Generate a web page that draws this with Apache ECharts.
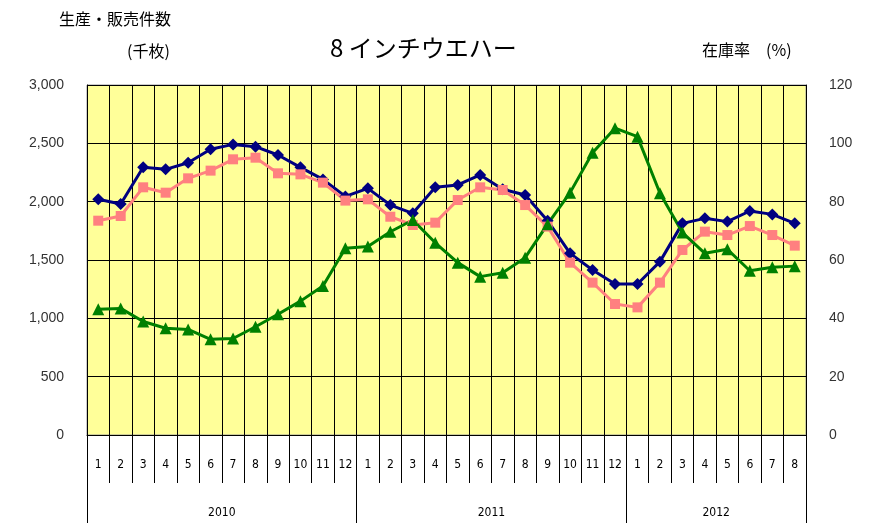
<!DOCTYPE html>
<html><head><meta charset="utf-8">
<script src="https://cdn.jsdelivr.net/npm/echarts@6/dist/echarts.min.js"></script>
<style>html,body{margin:0;padding:0;background:#fff}#c{width:872px;height:523px}</style>
</head><body><div id="c"></div>
<script>
const months = ['1','2','3','4','5','6','7','8','9','10','11','12','1','2','3','4','5','6','7','8','9','10','11','12','1','2','3','4','5','6','7','8'];
const years = ['2010','2011','2012'];
const yearBounds = [0, 12, 24, 32];
const yearCenters = [6, 18, 28];
const production = [2020,1980,2295,2277,2334,2449,2491,2471,2400,2294,2191,2045,2114,1971,1900,2123,2143,2229,2106,2057,1837,1557,1414,1294,1294,1486,1814,1857,1829,1920,1891,1814];
const sales = [1837,1877,2123,2077,2200,2266,2363,2377,2243,2234,2163,2009,2020,1871,1800,1820,2014,2123,2100,1971,1786,1477,1306,1123,1094,1306,1586,1743,1714,1791,1714,1623];
const inventoryRate = [43.1,43.4,38.9,36.6,36.2,32.8,33.1,37.1,41.4,45.9,51.1,64.0,64.6,69.7,73.7,65.9,59.1,54.3,55.6,60.8,72.3,83.1,96.8,105.2,102.3,82.9,69.4,62.3,63.7,56.3,57.5,57.9];

const chart = echarts.init(document.getElementById('c'));
const jp = '"Noto Sans CJK JP", sans-serif';
const num = '"Liberation Sans", Arial, sans-serif';
const narrow = '"Liberation Sans Narrow", "DejaVu Sans Condensed", "Liberation Sans", sans-serif';
chart.setOption({
  animation: false,
  title: [
    {text: '生産・販売件数', left: 54, top: 6, textStyle: {fontFamily: jp, fontSize: 16, fontWeight: 'normal', color: '#000'}},
    {text: '(千枚)', left: 122, top: 38, textStyle: {fontFamily: jp, fontSize: 16, fontWeight: 'normal', color: '#000'}},
    {text: '8 インチウエハー', left: 325, top: 31, textStyle: {fontFamily: jp, fontSize: 24, fontWeight: 'normal', color: '#000'}},
    {text: '在庫率　(%)', left: 697, top: 37, textStyle: {fontFamily: jp, fontSize: 16, fontWeight: 'normal', color: '#000'}}
  ],
  grid: {left: 87, right: 66, top: 85, bottom: 88, show: true, backgroundColor: '#FFFF99', borderColor: '#999', borderWidth: 1},
  xAxis: [
    {
      type: 'category', data: months, position: 'bottom', boundaryGap: true,
      axisLine: {show: true, lineStyle: {color: '#000', width: 1}},
      axisTick: {show: true, interval: 0, length: 48, lineStyle: {color: '#000'}},
      axisLabel: {interval: 0, margin: 24, color: '#000', fontSize: 12, fontFamily: narrow},
      splitLine: {show: true, interval: 0, lineStyle: {color: '#000', width: 1}}
    },
    {
      type: 'value', min: 0, max: 32, position: 'bottom',
      axisLine: {show: false},
      axisTick: {show: true, length: 88, customValues: yearBounds, lineStyle: {color: '#000'}},
      axisLabel: {show: true, customValues: yearCenters, margin: 72, color: '#000', fontSize: 12, fontFamily: narrow,
        formatter: v => years[yearCenters.indexOf(v)] || ''},
      splitLine: {show: false}
    }
  ],
  yAxis: [
    {
      type: 'value', min: 0, max: 3000, interval: 500,
      axisLine: {show: true, lineStyle: {color: '#000'}},
      axisTick: {show: false},
      axisLabel: {color: '#333', fontSize: 14, fontFamily: num, margin: 23,
        formatter: v => v.toLocaleString('en-US')},
      splitLine: {show: true, lineStyle: {color: '#000', width: 1}}
    },
    {
      type: 'value', min: 0, max: 120, interval: 20, position: 'right',
      axisLine: {show: true, lineStyle: {color: '#000'}},
      axisTick: {show: false},
      axisLabel: {color: '#333', fontSize: 14, fontFamily: num, margin: 23},
      splitLine: {show: false}
    }
  ],
  series: [
    {name: '生産', type: 'line', data: production, xAxisIndex: 0, yAxisIndex: 0,
      symbol: 'diamond', symbolSize: 12, color: '#000080', lineStyle: {width: 3, color: '#000080'}, itemStyle: {color: '#000080'}},
    {name: '販売', type: 'line', data: sales, xAxisIndex: 0, yAxisIndex: 0,
      symbol: 'rect', symbolSize: 10, color: '#FF8080', lineStyle: {width: 3, color: '#FF8080'}, itemStyle: {color: '#FF8080'}},
    {name: '在庫率', type: 'line', data: inventoryRate, xAxisIndex: 0, yAxisIndex: 1,
      symbol: 'triangle', symbolSize: 12, color: '#008000', lineStyle: {width: 3, color: '#008000'}, itemStyle: {color: '#008000'}}
  ]
});
</script></body></html>
